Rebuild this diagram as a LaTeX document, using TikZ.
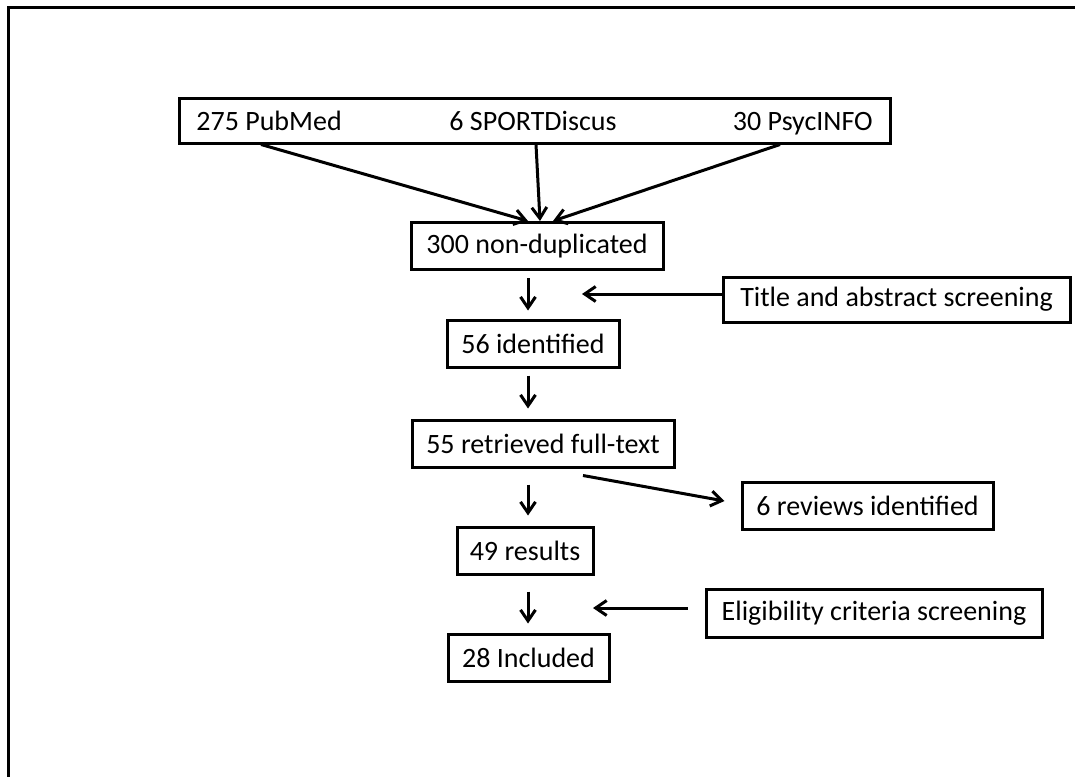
\documentclass[tikz,border=0pt]{standalone}
\usepackage{fontspec}
\setmainfont{Carlito}
\usetikzlibrary{positioning,arrows.meta,calc}

\begin{document}
\begin{tikzpicture}[x=0.5pt,y=-0.5pt,
    box/.style={draw, line width=1.5pt, minimum height=23.5pt, inner sep=0pt, font=\fontsize{14}{16}\selectfont},
    txt/.style={inner sep=0pt, font=\fontsize{14}{16}\selectfont},
    arr/.style={line width=1.5pt, -{Straight Barb[length=5.5pt,width=7.5pt]}}]
    \useasboundingbox (0,0) rectangle (1075,776);
    \clip (0,0) rectangle (1075,776);

    % outer frame, only top and left edges fall inside the page
    \draw[line width=1.5pt] (8,800) -- (8,7) -- (1100,7);

    % sources
    \node[box, minimum width=355.5pt, minimum height=22.5pt] (src) at (534.5,120.5) {};
    \node[txt, anchor=base west] (pubmed) at (196,130) {275 PubMed};
    \node[txt, anchor=base] (sport) at (533,130) {6 SPORTDiscus};
    \node[txt, anchor=base east] (psyc) at (873,130) {30 PsycINFO};

    % main column
    \node[box, minimum width=126pt] (nondup) at (537,246) {300 non-duplicated};
    \node[box, minimum width=86pt] (ident) at (533,343.5) {56 identified};
    \node[box, minimum width=131pt] (retr) at (543,443.5) {55 retrieved full-text};
    \node[box, minimum width=68pt] (res) at (525,550.5) {49 results};
    \node[box, minimum width=80.5pt] (incl) at (528.5,657.5) {28 Included};

    % side boxes
    \node[box, minimum width=173.5pt, minimum height=22.5pt] (title) at (896.5,299.5) {Title and abstract screening};
    \node[box, minimum width=125.5pt] (rev) at (867.5,506) {6 reviews identified};
    \node[box, minimum width=168pt, minimum height=24pt] (elig) at (874,613) {Eligibility criteria screening};

    % arrows from the sources
    \draw[arr] ($(src.south)+(-273.5,0)$) -- ($(nondup.north)+(-9,0)$);
    \draw[arr] ($(src.south)+(1.5,0)$) -- ($(nondup.north)+(3,0)$);
    \draw[arr] ($(src.south)+(245.5,0)$) -- ($(nondup.north)+(16,0)$);

    % down arrows
    \coordinate (col) at (528,0);
    \draw[arr, shorten <=3.5pt, shorten >=4pt] (nondup.south -| col) -- (ident.north -| col);
    \draw[arr, shorten <=3.5pt, shorten >=5pt] (ident.south -| col) -- (retr.north -| col);
    \draw[arr, shorten <=8pt, shorten >=5pt] (retr.south -| col) -- (res.north -| col);
    \draw[arr, shorten <=8pt, shorten >=4.5pt] (res.south -| col) -- (incl.north -| col);

    % side arrows
    \coordinate (t1) at (582,294);
    \draw[arr] (title.west |- t1) -- (t1);
    \draw[arr] ($(retr.south)+(40,7)$) -- ($(rev.west)+(-16,-5)$);
    \coordinate (e1) at (593,608);
    \draw[arr] ($(elig.west |- e1)+(-17,0)$) -- (e1);
\end{tikzpicture}
\end{document}
